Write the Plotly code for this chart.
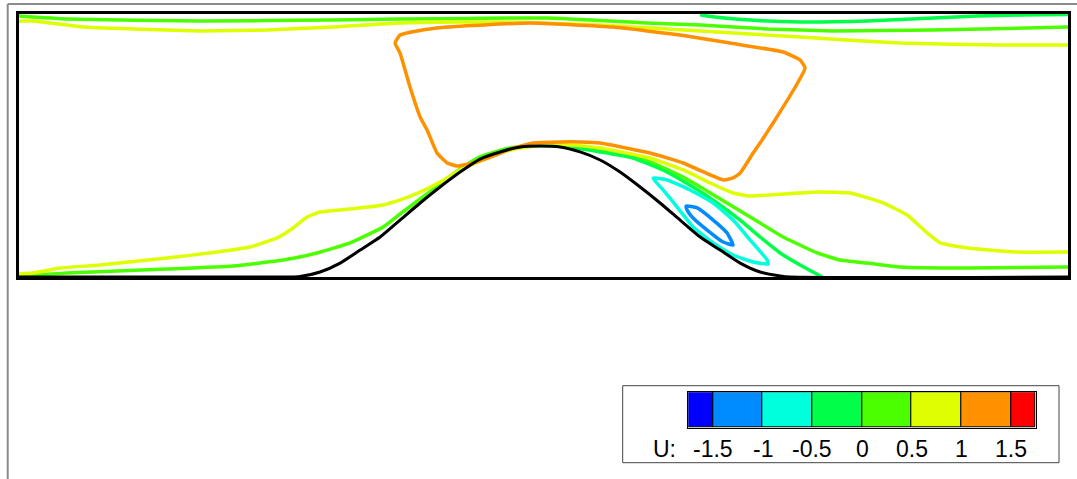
import plotly.graph_objects as go

# ---------------- data ----------------
# hill (lower wall) geometry
hill_x = [0.0, 2.067, 2.143, 2.296, 2.449, 2.601, 2.754, 2.906, 3.059, 3.211, 3.364, 3.516,
          3.669, 3.822, 3.974, 4.127, 4.279, 4.432, 4.584, 4.737, 4.889, 5.042, 5.195,
          5.347, 5.500, 5.652, 5.805, 5.881, 8.0]
hill_y = [0.0, 0.0, 0.004, 0.038, 0.106, 0.205, 0.304, 0.433, 0.563, 0.684, 0.798, 0.897,
          0.951, 0.989, 0.996, 0.989, 0.951, 0.890, 0.798, 0.684, 0.563, 0.433, 0.304,
          0.205, 0.106, 0.038, 0.008, 0.0, 0.0]

# U = 1.25 contour (closed loop)
u125_x = [2.868, 2.906, 3.036, 3.265, 3.898, 4.531, 5.042, 5.423, 5.828, 5.957, 5.995, 5.942,
          5.751, 5.667, 5.599, 5.500, 5.446, 5.370, 5.271, 5.065, 4.813, 4.432, 4.279, 4.127,
          3.921, 3.768, 3.616, 3.463, 3.341, 3.265, 3.188, 3.112, 3.059, 2.982, 2.906, 2.868]
u125_y = [1.779, 1.840, 1.871, 1.901, 1.932, 1.901, 1.840, 1.779, 1.711, 1.650, 1.589, 1.483,
          1.171, 1.042, 0.943, 0.791, 0.753, 0.738, 0.776, 0.867, 0.943, 1.019, 1.027, 1.027,
          1.019, 0.981, 0.920, 0.867, 0.844, 0.867, 0.943, 1.118, 1.217, 1.445, 1.703, 1.779]

# U = 0.75 contours
u075_top_x = [0.0, 0.107, 0.236, 0.488, 0.870, 1.381, 1.892, 2.395, 2.906, 3.440, 3.898,
              4.432, 4.813, 5.195, 5.957, 6.720, 7.483, 8.0]
u075_top_y = [1.947, 1.947, 1.932, 1.901, 1.886, 1.871, 1.878, 1.901, 1.932, 1.939, 1.935,
              1.916, 1.894, 1.871, 1.825, 1.779, 1.764, 1.764]
u075_bot_x = [0.0, 0.107, 0.313, 0.618, 1.129, 1.510, 1.762, 1.968, 2.090, 2.197, 2.296, 2.525,
              2.777, 2.906, 3.059, 3.211, 3.364, 3.516, 3.669, 3.822, 4.012, 4.203, 4.432,
              4.813, 5.065, 5.271, 5.446, 5.576, 5.828, 6.087, 6.339, 6.590, 6.773, 6.926,
              7.025, 7.231, 7.613, 8.0]
u075_bot_y = [0.023, 0.030, 0.068, 0.091, 0.144, 0.190, 0.228, 0.297, 0.373, 0.456, 0.494, 0.517,
              0.548, 0.586, 0.646, 0.722, 0.814, 0.882, 0.943, 0.981, 1.004, 1.004, 0.981,
              0.905, 0.814, 0.715, 0.639, 0.616, 0.631, 0.646, 0.639, 0.563, 0.471, 0.335,
              0.259, 0.221, 0.190, 0.190]

# U = 0.25 contours
u025_top_x = [0.0, 0.366, 1.381, 2.395, 2.906, 3.440, 4.027, 4.790, 5.195, 5.706, 6.209, 6.972, 8.0]
u025_top_y = [1.985, 1.962, 1.947, 1.954, 1.962, 1.966, 1.970, 1.932, 1.916, 1.886, 1.871, 1.878, 1.901]
u025_bot_x = [0.0, 0.366, 1.129, 1.632, 2.014, 2.273, 2.525, 2.777, 2.906, 3.059, 3.211, 3.364,
              3.516, 3.722, 3.898, 4.089, 4.279, 4.432, 4.813, 5.065, 5.324, 5.576, 5.828,
              6.087, 6.262, 6.468, 6.720, 7.231, 8.0]
u025_bot_y = [0.004, 0.030, 0.061, 0.084, 0.129, 0.183, 0.259, 0.380, 0.479, 0.593, 0.707, 0.821,
              0.913, 0.977, 1.000, 1.000, 0.989, 0.966, 0.875, 0.760, 0.608, 0.456, 0.304,
              0.183, 0.129, 0.106, 0.076, 0.068, 0.076]

# U = -0.25 contours
um025_top_x = [5.195, 5.248, 5.576, 5.957, 6.468, 6.972, 7.307, 7.635, 8.0]
um025_top_y = [1.994, 1.985, 1.954, 1.939, 1.947, 1.970, 1.985, 1.992, 1.996]
um025_bot_x = [3.783, 3.974, 4.165, 4.432, 4.683, 4.943, 5.141, 5.324, 5.500, 5.652, 5.805, 5.957, 6.125]
um025_bot_y = [0.981, 1.000, 0.992, 0.951, 0.905, 0.798, 0.684, 0.563, 0.433, 0.304, 0.183, 0.091, 0.0]

# U = -0.75 contour (closed loop)
um075_x = [4.836, 4.943, 5.118, 5.294, 5.446, 5.576, 5.706, 5.713, 5.599, 5.446, 5.294, 5.141,
           5.019, 4.912, 4.851, 4.836]
um075_y = [0.753, 0.738, 0.662, 0.563, 0.433, 0.281, 0.129, 0.099, 0.114, 0.167, 0.259, 0.380,
           0.532, 0.662, 0.730, 0.753]

# U = -1.25 contour (closed loop)
um125_x = [5.088, 5.172, 5.294, 5.400, 5.446, 5.370, 5.248, 5.141, 5.095, 5.088]
um125_y = [0.540, 0.525, 0.433, 0.335, 0.243, 0.266, 0.357, 0.449, 0.510, 0.540]

# colour legend
level_edges = [-1.75, -1.5, -1.0, -0.5, 0.0, 0.5, 1.0, 1.5, 1.75]
level_values = [-1.75, -1.25, -0.75, -0.25, 0.25, 0.75, 1.25, 1.75]
tick_values = [-1.5, -1.0, -0.5, 0.0, 0.5, 1.0, 1.5]
tick_labels = ["-1.5", "-1", "-0.5", "0", "0.5", "1", "1.5"]
legend_title = "U:"

# ---------------- styles ----------------
level_colors = {-1.75: "#0000FF", -1.25: "#008CFF", -0.75: "#00FFDD", -0.25: "#00FF48",
                0.25: "#4CFF00", 0.75: "#DDFF00", 1.25: "#FF9100", 1.75: "#FF0000"}
W, H = 1077, 479
FONT = "Liberation Sans, Arial, sans-serif"

contours = [
    (0.25, u025_top_x, u025_top_y),
    (0.25, u025_bot_x, u025_bot_y),
    (-0.25, um025_top_x, um025_top_y),
    (-0.25, um025_bot_x, um025_bot_y),
    (0.75, u075_top_x, u075_top_y),
    (0.75, u075_bot_x, u075_bot_y),
    (-0.75, um075_x, um075_y),
    (-1.25, um125_x, um125_y),
    (1.25, u125_x, u125_y),
]

fig = go.Figure()
for lev, xs, ys in contours:
    fig.add_trace(go.Scatter(x=xs, y=ys, mode="lines",
                             line=dict(color=level_colors[lev], width=3.5,
                                       shape="spline", smoothing=0.4),
                             hoverinfo="skip", showlegend=False,
                             xaxis="x", yaxis="y"))

fig.add_trace(go.Scatter(x=hill_x, y=hill_y, mode="lines",
                         line=dict(color="black", width=3, shape="spline", smoothing=0.6),
                         hoverinfo="skip", showlegend=False, xaxis="x", yaxis="y"))

# legend cells as bars on their own axes
centers = [(a + b) / 2 for a, b in zip(level_edges[:-1], level_edges[1:])]
widths = [b - a for a, b in zip(level_edges[:-1], level_edges[1:])]
fig.add_trace(go.Bar(x=centers, y=[1] * len(centers), width=widths,
                     marker=dict(color=[level_colors[v] for v in level_values],
                                 line=dict(color="black", width=1)),
                     hoverinfo="skip", showlegend=False, xaxis="x2", yaxis="y2"))

for v, t in zip(tick_values, tick_labels):
    fig.add_annotation(x=v, y=1 - 449 / H, xref="x2", yref="paper", text=t,
                       showarrow=False, xanchor="center", yanchor="middle",
                       font=dict(family=FONT, size=23, color="black"))
fig.add_annotation(x=664 / W, y=1 - 449 / H, xref="paper", yref="paper", text=legend_title,
                   showarrow=False, xanchor="center", yanchor="middle",
                   font=dict(family=FONT, size=23, color="black"))

# legend frame
fig.add_shape(type="rect", xref="paper", yref="paper",
              x0=622.7 / W, x1=1059 / W, y0=1 - 462.7 / H, y1=1 - 385.7 / H,
              line=dict(color="#444444", width=1), fillcolor="rgba(0,0,0,0)", layer="below")
# outer frame lines (top and left)
fig.add_shape(type="line", xref="paper", yref="paper",
              x0=7.7 / W, x1=1.0, y0=1 - 4 / H, y1=1 - 4 / H,
              line=dict(color="#8c8c8c", width=2))
fig.add_shape(type="line", xref="paper", yref="paper",
              x0=7.7 / W, x1=7.7 / W, y0=0, y1=1 - 4 / H,
              line=dict(color="#8c8c8c", width=2))

fig.update_layout(
    width=W, height=H,
    margin=dict(l=0, r=0, t=0, b=0),
    paper_bgcolor="white", plot_bgcolor="rgba(0,0,0,0)",
    showlegend=False,
    bargap=0,
    xaxis=dict(domain=[19 / W, 1068 / W], range=[0, 8], showgrid=False, zeroline=False,
               showticklabels=False, ticks="", showline=True, mirror=True,
               linecolor="black", linewidth=2.5, fixedrange=True),
    yaxis=dict(domain=[1 - 277 / H, 1 - 14 / H], range=[0, 2], showgrid=False, zeroline=False,
               showticklabels=False, ticks="", showline=True, mirror=True,
               linecolor="black", linewidth=2.5, fixedrange=True),
    xaxis2=dict(domain=[688.3 / W, 1035.7 / W], range=[-1.75, 1.75], anchor="y2",
                showgrid=False, zeroline=False, showticklabels=False, ticks="",
                showline=True, mirror=True, linecolor="black", linewidth=1, fixedrange=True),
    yaxis2=dict(domain=[1 - 427.7 / H, 1 - 392.3 / H], range=[0, 1], anchor="x2",
                showgrid=False, zeroline=False, showticklabels=False, ticks="",
                showline=True, mirror=True, linecolor="black", linewidth=1, fixedrange=True),
)

fig.write_html("out.html")
